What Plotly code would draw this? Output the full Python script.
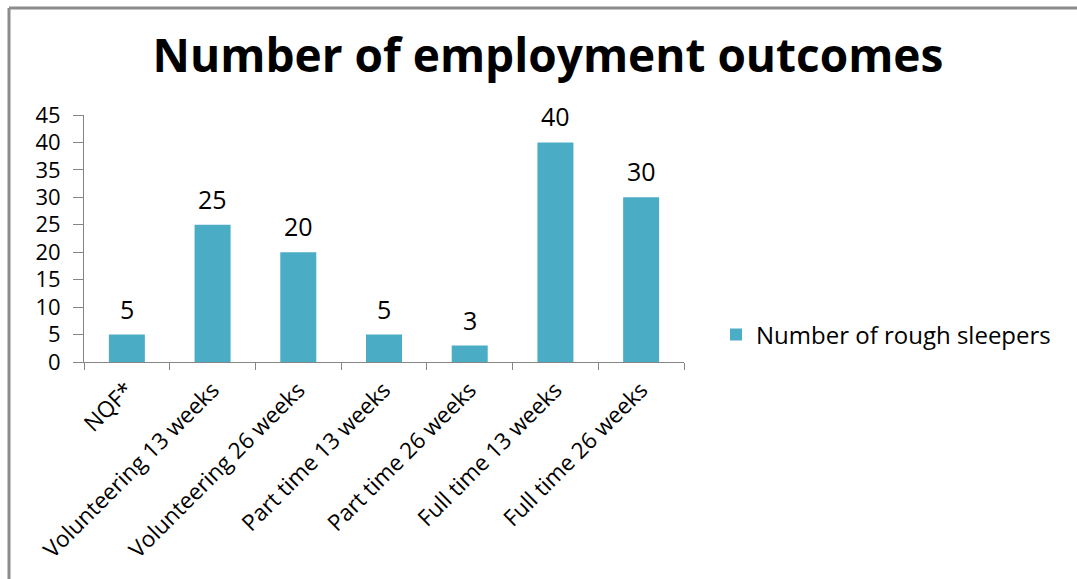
import plotly.graph_objects as go

categories = ["NQF*", "Volunteering 13 weeks", "Volunteering 26 weeks", "Part time 13 weeks",
              "Part time 26 weeks", "Full time 13 weeks", "Full time 26 weeks"]
values = [5, 25, 20, 5, 3, 40, 30]
series_name = "Number of rough sleepers"
y_ticks = [0, 5, 10, 15, 20, 25, 30, 35, 40, 45]

FONT = "Open Sans"
L, R, T, B = 84, 393, 115, 217
W, H = 1077, 579
pw, ph = W - L - R, H - T - B

fig = go.Figure()
fig.add_trace(go.Bar(
    x=categories, y=values, name=series_name,
    marker=dict(color="#4BACC6", line=dict(width=0)),
    showlegend=True,
))

for c, v in zip(categories, values):
    fig.add_annotation(x=c, y=v, text=str(v), showarrow=False,
                       yanchor="middle", yshift=26,
                       font=dict(size=25, family=FONT, color="#000000"))

fig.update_layout(
    width=W, height=H,
    margin=dict(l=L, r=R, t=T, b=B, autoexpand=False),
    paper_bgcolor="white", plot_bgcolor="white",
    bargap=0.58,
    title=dict(text="<b>Number of employment outcomes</b>", x=548 / W, xanchor="center",
               y=1 - 56 / H, yanchor="middle",
               font=dict(size=46, family=FONT, color="#000000")),
    font=dict(family=FONT, color="#000000"),
    legend=dict(x=(716 - L) / pw, y=(362 - 335) / ph, xanchor="left", yanchor="middle",
                font=dict(size=24, family=FONT, color="#000000"),
                bgcolor="rgba(0,0,0,0)"),
    xaxis=dict(showline=True, linecolor="#868686", linewidth=1, automargin=False,
               ticks="outside", ticklen=7, tickcolor="#868686", tickson="boundaries",
               tickangle=-45, tickfont=dict(size=22.5, family=FONT, color="#000000"),
               ticklabelstandoff=5, showgrid=False),
    yaxis=dict(range=[0, 45], tickvals=y_ticks, showline=True, linecolor="#868686", linewidth=1,
               automargin=False,
               ticks="outside", ticklen=10, tickcolor="#868686",
               tickfont=dict(size=22, family=FONT, color="#000000"),
               ticklabelstandoff=8, showgrid=False, zeroline=False),
    shapes=[
        dict(type="line", xref="paper", yref="paper",
             x0=(9 - L) / pw, x1=(W + 20 - L) / pw,
             y0=(H - B - 8) / ph, y1=(H - B - 8) / ph,
             line=dict(color="#8C8C8C", width=3)),
        dict(type="line", xref="paper", yref="paper",
             x0=(9 - L) / pw, x1=(9 - L) / pw,
             y0=(H - B - 8) / ph, y1=(H - B - H - 20) / ph,
             line=dict(color="#8C8C8C", width=3)),
    ],
)

fig.write_html("out.html")
